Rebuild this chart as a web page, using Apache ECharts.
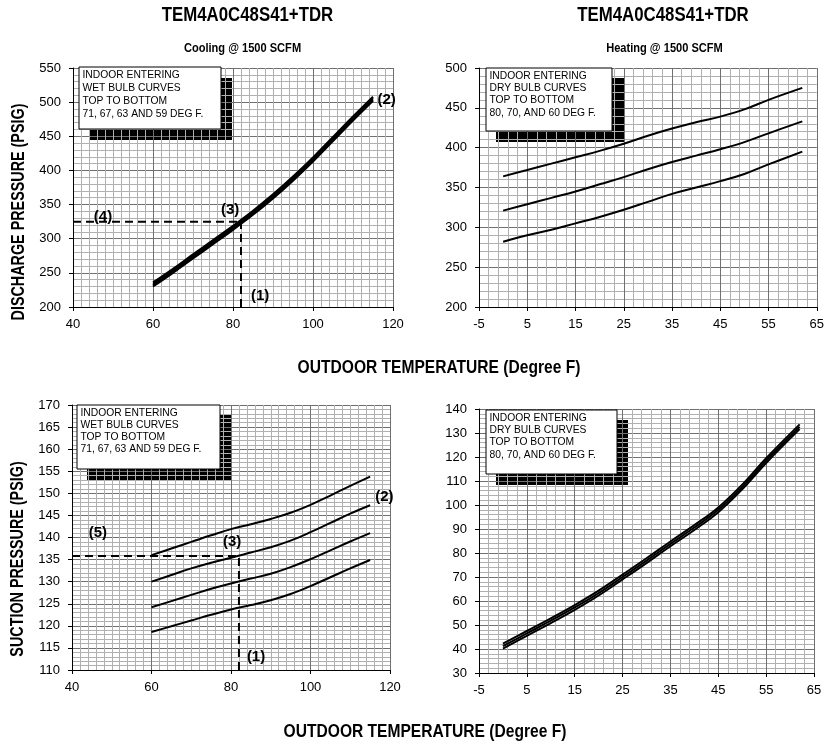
<!DOCTYPE html>
<html><head><meta charset="utf-8">
<script src="https://cdn.jsdelivr.net/npm/echarts@6/dist/echarts.min.js"></script>
<style>html,body{margin:0;padding:0;background:#fff}#c{width:827px;height:749px}</style>
</head><body><div id="c"></div>
<script>
// ---- data ----
const coolTemps = [60, 65, 70, 75, 80, 85, 90, 95, 100, 105, 110, 115];
const coolDischarge71 = [236, 256, 277, 298, 319, 341, 365, 391, 419, 449, 479, 508];
const coolDischarge67 = [234, 254, 275, 296, 317, 339, 363, 389, 417, 447, 477, 506];
const coolDischarge63 = [232, 252, 273, 294, 315, 337, 361, 387, 415, 445, 475, 504];
const coolDischarge59 = [230, 250, 271, 292, 313, 335, 359, 385, 413, 443, 473, 502];

const heatTemps = [0, 5, 10, 15, 20, 25, 30, 35, 40, 45, 50, 55, 62];
const heatDischarge80 = [364, 372, 380, 388, 396, 405, 415, 424, 432, 439, 448, 460, 475];
const heatDischarge70 = [321, 329, 337, 345, 354, 363, 373, 382, 390, 398, 407, 418, 433];
const heatDischarge60 = [282, 290, 297, 305, 313, 322, 332, 342, 350, 358, 367, 379, 395];

const coolSuction71 = [136, 137.5, 139, 140.5, 141.9, 143, 144.2, 145.6, 147.4, 149.5, 151.7, 153.8];
const coolSuction67 = [130, 131.5, 133, 134.3, 135.4, 136.6, 137.8, 139.3, 141.2, 143.3, 145.4, 147.3];
const coolSuction63 = [124.2, 125.6, 127, 128.4, 129.6, 130.7, 131.8, 133.3, 135.1, 137.1, 139.1, 141];
const coolSuction59 = [118.6, 119.9, 121.2, 122.5, 123.7, 124.7, 125.8, 127.2, 129, 131, 133, 134.9];

const heatSuction80 = [42.2, 47.5, 52.8, 58.3, 64.3, 71, 77.8, 84.8, 91.6, 99, 108.5, 119.5, 133.6];
const heatSuction70 = [41.2, 46.5, 51.8, 57.3, 63.3, 70, 76.8, 83.8, 90.6, 98, 107.5, 118.5, 132.6];
const heatSuction60 = [40.2, 45.5, 50.8, 56.3, 62.3, 69, 75.8, 82.8, 89.6, 97, 106.5, 117.5, 131.6];

// example reference lines (outdoor temp 82 F)
const dischargeRefH = [[40, 325], [82, 325]];
const dischargeRefV = [[82, 200], [82, 325]];
const suctionRefH = [[40, 135.8], [82, 135.8]];
const suctionRefV = [[82, 110], [82, 135.8]];

const dischargeNotes = [['(4)', 47.5, 331.8], ['(3)', 79.3, 342.6], ['(1)', 86.8, 215.7], ['(2)', 118.4, 503.6]];
const suctionNotes = [['(5)', 46.5, 141.1], ['(3)', 80.3, 139.1], ['(1)', 86.3, 112.9], ['(2)', 118.6, 149.3]];

const coolXTicks = {min: 40, max: 120, interval: 20};
const heatXTicks = {min: -5, max: 65, interval: 10};
const coolDisYTicks = {min: 200, max: 550, interval: 50};
const heatDisYTicks = {min: 200, max: 500, interval: 50};
const coolSucYTicks = {min: 110, max: 170, interval: 5};
const heatSucYTicks = {min: 30, max: 140, interval: 10};

const title = 'TEM4A0C48S41+TDR';
const coolSub = 'Cooling @ 1500 SCFM';
const heatSub = 'Heating @ 1500 SCFM';
const xTitle = 'OUTDOOR TEMPERATURE (Degree F)';
const yTitleTop = 'DISCHARGE PRESSURE (PSIG)';
const yTitleBottom = 'SUCTION PRESSURE (PSIG)';
const wetNote = 'INDOOR ENTERING\nWET BULB CURVES\nTOP TO BOTTOM\n71, 67, 63 AND 59 DEG F.';
const dryNote = 'INDOOR ENTERING\nDRY BULB CURVES\nTOP TO BOTTOM\n80, 70, AND 60 DEG F.';

// ---- chart ----
const SANS = "'Liberation Sans',Arial,sans-serif";
const pair = (xs, ys) => xs.map((x, i) => [x, ys[i]]);

function xAx(gi, t, minor) {
  return {type: 'value', gridIndex: gi, min: t.min, max: t.max, interval: t.interval,
    axisLine: {show: true, onZero: false, lineStyle: {color: '#000', width: 1}},
    axisTick: {show: true, length: 4, lineStyle: {color: '#000'}},
    axisLabel: {margin: 11, fontSize: 13, color: '#000', fontFamily: SANS, showMinLabel: true, showMaxLabel: true},
    splitLine: {show: true, lineStyle: {color: '#707070', width: 1}},
    minorTick: {show: false, splitNumber: minor},
    minorSplitLine: {show: true, lineStyle: {color: '#b0b0b0', width: 1}}};
}
function yAx(gi, t, minor) {
  return {type: 'value', gridIndex: gi, min: t.min, max: t.max, interval: t.interval,
    axisLine: {show: true, onZero: false, lineStyle: {color: '#000', width: 1}},
    axisTick: {show: true, length: 4, lineStyle: {color: '#000'}},
    axisLabel: {margin: 12, fontSize: 13, color: '#000', fontFamily: SANS, showMinLabel: true, showMaxLabel: true},
    splitLine: {show: true, lineStyle: {color: '#707070', width: 1}},
    minorTick: {show: false, splitNumber: minor},
    minorSplitLine: {show: true, lineStyle: {color: '#b0b0b0', width: 1}}};
}
function curve(gi, xs, ys, w) {
  return {type: 'line', xAxisIndex: gi, yAxisIndex: gi, data: pair(xs, ys), smooth: 0.4,
    symbol: 'none', z: 3, lineStyle: {color: '#000', width: w}};
}
function dashed(gi, pts) {
  return {type: 'line', xAxisIndex: gi, yAxisIndex: gi, data: pts, symbol: 'none', z: 4,
    lineStyle: {color: '#000', width: 2, type: [8, 5]}};
}
function notes(gi, arr) {
  return {type: 'scatter', xAxisIndex: gi, yAxisIndex: gi, symbolSize: 1, z: 6,
    itemStyle: {color: 'rgba(0,0,0,0)', opacity: 1},
    emphasis: {disabled: true},
    data: arr.map(a => ({name: a[0], value: [a[1], a[2]]})),
    label: {show: true, position: 'inside', formatter: '{b}', fontSize: 15, fontWeight: 'bold',
      color: '#000', textBorderWidth: 0, fontFamily: SANS}};
}
function noteBox(bx, by, bw, bh, sx, sy, sw, sh, txt, lh) {
  return [
    {type: 'rect', z: -1, shape: {x: sx, y: sy, width: sw, height: sh}, style: {fill: '#000'}},
    {type: 'rect', z: 10, shape: {x: bx, y: by, width: bw, height: bh}, style: {fill: '#fff', stroke: '#000', lineWidth: 1}},
    {type: 'text', z: 11, x: bx + 3.5, y: by + 2, style: {text: txt, fontSize: 10.3, fontFamily: SANS, fill: '#000',
      lineHeight: lh, textAlign: 'left', textVerticalAlign: 'top'}}
  ];
}
function txt(x, y, s, size, rot) {
  return {type: 'text', z: 12, x: x, y: y, rotation: rot || 0, scaleX: 0.82,
    style: {text: s, fontSize: size, fontWeight: 'bold', fontFamily: SANS, fill: '#000', textAlign: 'center', textVerticalAlign: 'middle'}};
}

const chart = echarts.init(document.getElementById('c'), null, {renderer: 'canvas'});
chart.setOption({
  animation: false,
  backgroundColor: '#fff',
  grid: [
    {left: 73, top: 68, width: 320, height: 239},
    {left: 479, top: 68, width: 340, height: 239},
    {left: 72, top: 405, width: 318, height: 265},
    {left: 479, top: 409, width: 335, height: 264}
  ],
  xAxis: [xAx(0, coolXTicks, 10), xAx(1, heatXTicks, 5), xAx(2, coolXTicks, 10), xAx(3, heatXTicks, 5)],
  yAxis: [yAx(0, coolDisYTicks, 5), yAx(1, heatDisYTicks, 5), yAx(2, coolSucYTicks, 5), yAx(3, heatSucYTicks, 5)],
  series: [
    curve(0, coolTemps, coolDischarge71, 2), curve(0, coolTemps, coolDischarge67, 2),
    curve(0, coolTemps, coolDischarge63, 2), curve(0, coolTemps, coolDischarge59, 2),
    dashed(0, dischargeRefH), dashed(0, dischargeRefV), notes(0, dischargeNotes),
    curve(1, heatTemps, heatDischarge80, 2), curve(1, heatTemps, heatDischarge70, 2), curve(1, heatTemps, heatDischarge60, 2),
    curve(2, coolTemps, coolSuction71, 2), curve(2, coolTemps, coolSuction67, 2),
    curve(2, coolTemps, coolSuction63, 2), curve(2, coolTemps, coolSuction59, 2),
    dashed(2, suctionRefH), dashed(2, suctionRefV), notes(2, suctionNotes),
    curve(3, heatTemps, heatSuction80, 2), curve(3, heatTemps, heatSuction70, 2), curve(3, heatTemps, heatSuction60, 2)
  ],
  graphic: [].concat(
    noteBox(79, 67, 142, 62, 89, 78, 143, 62, wetNote, 12.8),
    noteBox(486, 68, 126, 63, 496, 78, 128, 64, dryNote, 12.2),
    noteBox(77, 405, 143, 64, 87, 415, 144, 66, wetNote, 12.1),
    noteBox(486, 410, 131, 64, 496, 420, 132, 65, dryNote, 12.2),
    [
      txt(247.5, 15.5, title, 20.5), txt(663, 15.5, title, 20.5),
      txt(242.5, 48, coolSub, 13.5), txt(664.5, 48, heatSub, 13.5),
      txt(439, 368, xTitle, 19), txt(425, 732, xTitle, 19),
      txt(19, 212, yTitleTop, 17.5, Math.PI / 2), txt(18.5, 559, yTitleBottom, 17.5, Math.PI / 2)
    ]
  )
});
</script></body></html>
